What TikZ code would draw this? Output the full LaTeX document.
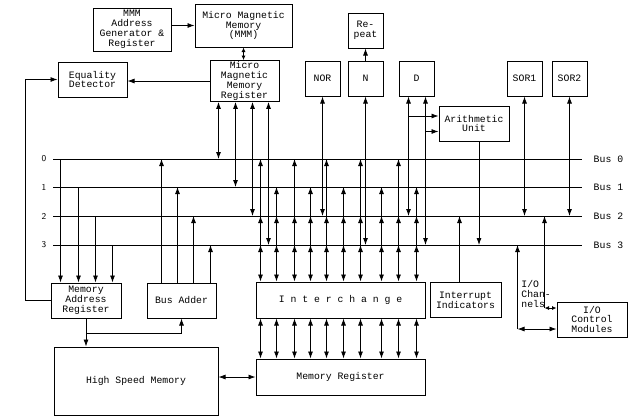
\documentclass[tikz,border=0pt]{standalone}
\usepackage{fontspec}
\setmonofont{Liberation Mono}
\usetikzlibrary{positioning, calc, arrows.meta}

\begin{document}
\begin{tikzpicture}[
	x=1pt, y=-1pt,
	blk/.style={rectangle, draw, line width=1pt, align=center, inner sep=1pt, font=\ttfamily\fontsize{9.8}{9.9}\selectfont},
	sqbox/.style={blk, minimum width=35pt, minimum height=35pt},
	widebox/.style={blk, minimum width=69pt, minimum height=35pt},
	longbox/.style={blk, minimum width=169pt, minimum height=36pt},
	buslabel/.style={font=\ttfamily\fontsize{9.8}{9.9}\selectfont},
	small/.style={>={Latex[length=4.5pt, width=4pt]}},
	>={Latex[length=7pt, width=5pt]},
	line width=0.8pt
]
\useasboundingbox (0,0) rectangle (628,418);

\node[blk, minimum width=78pt, minimum height=43pt] (mmmaddr) at (132,29.5) {MMM\\Address\\Generator \&\\Register};
\node[blk, minimum width=97pt, minimum height=43pt] (mmm) at (243.5,25.5) {Micro Magnetic\\Memory\\(MMM)};
\node[widebox] (eqdet) at (92.5,79.5) {Equality\\Detector};
\node[widebox, minimum height=40pt] (mmmreg) at (244.5,81) {Micro\\Magnetic\\Memory\\Register};
\node[sqbox] (nor) at (322.5,78.5) {NOR};
\node[sqbox, right=7pt of nor] (nreg) {N};
\node[sqbox, above=12pt of nreg] (repeat) {Re-\\peat};
\node[sqbox, right=15pt of nreg] (dreg) {D};
\node[sqbox] (sorone) at (524.5,78.5) {SOR1};
\node[sqbox, right=9pt of sorone] (sortwo) {SOR2};
\node[widebox, minimum width=70pt] (arith) at (474,123.5) {Arithmetic\\Unit};
\node[widebox, minimum width=70pt] (mar) at (86,300.5) {Memory\\Address\\Register};
\node[widebox] (busadd) at (181.5,300.5) {Bus Adder};
\node[longbox] (inter) at (340.5,300) {I n t e r c h a n g e};
\node[widebox, minimum width=71pt, right=4pt of inter] (intind) {Interrupt\\Indicators};
\node[longbox, below=40pt of inter] (memreg) {Memory Register};
\node[blk, minimum width=164pt, minimum height=68pt] (hsm) at (136,381) {High Speed Memory};
\node[widebox, minimum width=70pt] (iocm) at (592,319.5) {I/O\\Control\\Modules};
\node[buslabel, anchor=north west, align=left, inner sep=0pt] (iolabel) at (521,280) {I/O\\Chan-\\nels};

\foreach \i/\y in {0/159, 1/187, 2/216, 3/245} {
	\coordinate (busw\i) at (53,\y);
	\coordinate (buse\i) at (582,\y);
	\draw (busw\i) -- (buse\i);
	\node[left=3pt of busw\i, font=\sffamily\small] {\i};
	\node[buslabel, right=8pt of buse\i] {Bus \i};
}

\draw[->] (mmmaddr.east |- mmm.west) -- (mmm.west);
\draw[<->, small] (mmm.south) -- (mmm.south |- mmmreg.north);
\draw[->] (mmmreg.west) -- (mmmreg.west -| eqdet.east);
\draw[->] (mar.west) -- ++(-25,0) |- (eqdet.west);

\foreach \dx/\b in {9/0, 26/1, 43/2, 59/3} {
	\coordinate (top) at ([xshift=\dx pt]mmmreg.south west);
	\draw[<->] (top) -- (top |- busw\b);
}

\foreach \dx/\b in {10/0, 28/1, 45/2, 62/3} {
	\coordinate (top) at ([xshift=\dx pt]mar.north west);
	\draw[->] (top |- busw\b) -- (top);
}

\foreach \dx/\b in {15/0, 31/1, 47/2, 64/3} {
	\coordinate (top) at ([xshift=\dx pt]busadd.north west);
	\draw[->] (top) -- (top |- busw\b);
}

\foreach \dx/\b in {5/0, 21/1, 39/0, 55/1, 71/0, 88/1, 105/0, 126/1, 143/0, 161/1} {
	\coordinate (top) at ([xshift=\dx pt]inter.north west);
	\coordinate (bot) at ([xshift=\dx pt]inter.south west);
	\draw[<->] (top) -- (top |- busw3);
	\draw[->] (top |- busw3) -- (top |- busw2);
	\draw[->] (top |- busw2) -- (top |- busw\b);
	\draw[<->] (bot) -- (bot |- memreg.north);
}

\foreach \i/\j in {nor/2, nreg/3, sorone/2, sortwo/2}
	\draw[<->] (\i.south) -- (\i.south |- busw\j);
\draw[->] (nreg.north) -- (repeat.south);

\coordinate (dleft) at ([xshift=-8pt]dreg.south);
\coordinate (dright) at ([xshift=9pt]dreg.south);
\coordinate (auin) at ([yshift=7.5pt]arith.west);
\coordinate (auinb) at ([yshift=-8pt]arith.west);
\coordinate (auout) at ([xshift=5pt]arith.south);
\coordinate (intout) at ([xshift=-6pt]intind.north);
\draw[<->] (dleft) -- (dleft |- busw2);
\draw[<->] (dright) -- (dright |- busw3);
\draw[->] (dleft |- auin) -- (auin);
\draw[->] (dright |- auinb) -- (auinb);
\draw[->] (auout) -- (auout |- busw3);
\draw[->] (intout) -- (intout |- busw2);

\coordinate (ioa) at ([yshift=11.5pt]iocm.west);
\coordinate (iob) at ([yshift=-9.5pt]iocm.west);
\coordinate (cha) at ($(ioa)+(-12,0)$);
\coordinate (chb) at ($(iob)+(-39,0)$);
\draw[->] (cha) -- (cha |- busw2);
\draw[<->, small] (cha) -- (ioa);
\draw[->] (chb) -- (chb |- busw3);
\draw[<->] (chb) -- (iob);

\draw[->] (mar.south) -- (mar.south |- hsm.north);
\coordinate (split) at ([yshift=-15pt]mar.south);
\draw[->] (split) -| (busadd.south);
\draw[<->] (hsm.east |- memreg.west) -- (memreg.west);

\end{tikzpicture}
\end{document}
